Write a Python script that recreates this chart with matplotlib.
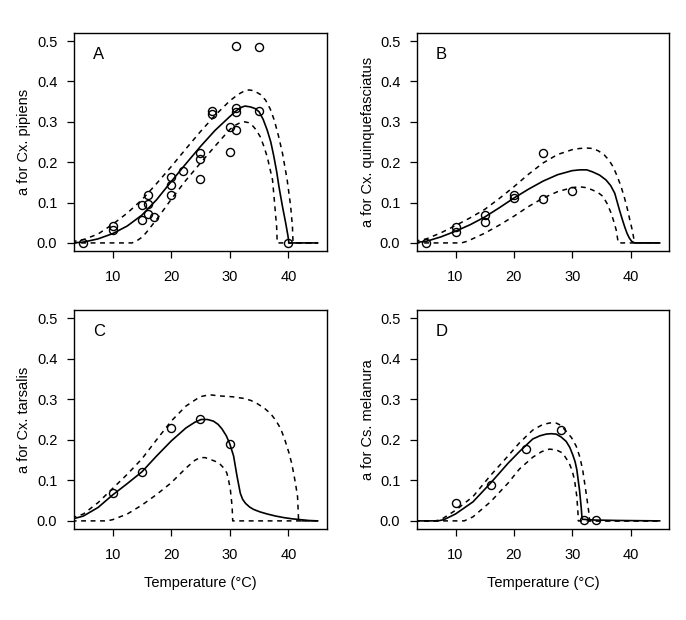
import numpy as np
import matplotlib
matplotlib.use("Agg")
import matplotlib.pyplot as plt

plt.rcParams["font.family"] = ["Liberation Sans", "DejaVu Sans"]

# ---- observed points (temperature, biting rate a) ----
a_pts_t = [5, 10, 10, 15, 15, 16, 16, 16, 17, 20, 20, 20, 22, 25, 25, 25,
           27, 27, 30, 30, 31, 31, 31, 31, 35, 35, 40]
a_pts_y = [0.0, 0.041, 0.031, 0.093, 0.057, 0.119, 0.096, 0.072, 0.065,
           0.164, 0.143, 0.118, 0.179, 0.222, 0.208, 0.158, 0.327, 0.320,
           0.287, 0.226, 0.488, 0.333, 0.325, 0.279, 0.485, 0.326, 0.0]

b_pts_t = [5, 10, 10, 15, 15, 20, 20, 25, 25, 30]
b_pts_y = [0.0, 0.040, 0.026, 0.070, 0.052, 0.119, 0.111, 0.222, 0.110, 0.129]

c_pts_t = [10, 15, 20, 25, 30]
c_pts_y = [0.070, 0.120, 0.230, 0.251, 0.190]

d_pts_t = [10, 16, 22, 28, 32, 34]
d_pts_y = [0.044, 0.088, 0.177, 0.224, 0.001, 0.001]

# ---- fitted mean curves and 95% bounds ----
a_fit_t = [3, 5, 7.5, 10, 12.5, 15, 17.5, 20, 22.5, 25, 27.5, 30, 31, 31.8,
           32.6, 33.5, 34.3, 35, 35.7, 36.4, 37.0, 37.5, 38.0, 38.4, 39.0,
           39.55, 39.95, 40.1, 45]
a_fit_y = [0.0, 0.002, 0.01, 0.023, 0.042, 0.069, 0.107, 0.152, 0.196, 0.239,
           0.279, 0.313, 0.326, 0.335, 0.339, 0.337, 0.333, 0.325, 0.306,
           0.279, 0.25, 0.216, 0.177, 0.139, 0.09, 0.049, 0.016, 0.0, 0.0]
a_hi_t = [3, 5, 7.5, 10, 12.5, 15, 17.5, 20, 22.5, 25, 27.5, 30, 31, 31.8,
          32.6, 33.3, 34.1, 35.2, 36.1, 36.9, 37.6, 38.3, 39.0, 39.8, 40.4,
          40.7, 40.8, 45]
a_hi_y = [0.003, 0.008, 0.022, 0.046, 0.074, 0.107, 0.147, 0.189, 0.233, 0.276,
          0.316, 0.352, 0.363, 0.371, 0.377, 0.379, 0.377, 0.368, 0.354, 0.332,
          0.304, 0.266, 0.222, 0.156, 0.09, 0.04, 0.0, 0.0]
a_lo_t = [3, 13.3, 14, 15, 15.7, 17.5, 20, 22.5, 25, 27.5, 30, 31, 31.8, 32.5,
          33.2, 33.8, 34.5, 35.2, 35.8, 36.4, 37.3, 37.7, 38.0, 38.1, 45]
a_lo_y = [0.0, 0.0, 0.004, 0.014, 0.025, 0.058, 0.108, 0.155, 0.198, 0.24,
          0.281, 0.292, 0.298, 0.3, 0.298, 0.292, 0.28, 0.263, 0.24, 0.213,
          0.156, 0.09, 0.04, 0.0, 0.0]

b_fit_t = [3, 5, 7.5, 10, 12.5, 15, 17.5, 20, 22.5, 25, 27.5, 30, 31.3, 32.5,
           33.5, 34.7, 35.8, 36.6, 37.3, 38.1, 38.6, 39.0, 39.4, 39.8, 40.2,
           40.7, 45]
b_fit_y = [0.001, 0.004, 0.015, 0.029, 0.045, 0.064, 0.087, 0.111, 0.133,
           0.153, 0.169, 0.179, 0.181, 0.181, 0.176, 0.168, 0.156, 0.142,
           0.123, 0.082, 0.058, 0.04, 0.024, 0.012, 0.004, 0.0, 0.0]
b_hi_t = [3, 5, 7.5, 10, 12.5, 15, 17.5, 20, 22.5, 25, 27.5, 30, 31.3, 32.5,
          33.5, 34.5, 35.5, 36.3, 37.0, 37.7, 38.4, 39.0, 39.5, 39.9, 40.3,
          40.7, 45]
b_hi_y = [0.004, 0.01, 0.025, 0.043, 0.062, 0.083, 0.11, 0.139, 0.17, 0.198,
          0.219, 0.231, 0.234, 0.235, 0.234, 0.228, 0.218, 0.205, 0.189, 0.166,
          0.139, 0.11, 0.082, 0.056, 0.032, 0.0, 0.0]
b_lo_t = [3, 11, 12, 15, 17.5, 20, 22.5, 25, 27.5, 30, 31.3, 32.4, 33.5, 34.5,
          35.3, 36.0, 36.7, 37.2, 37.55, 37.9, 45]
b_lo_y = [0.0, 0.0, 0.004, 0.024, 0.044, 0.066, 0.09, 0.111, 0.127, 0.137,
          0.139, 0.137, 0.131, 0.124, 0.115, 0.097, 0.073, 0.05, 0.032, 0.0,
          0.0]

c_fit_t = [3, 5, 7.5, 10, 12.5, 15, 17.5, 20, 22.5, 24, 25.1, 26.2, 27.2,
           28.0, 28.66, 29.4, 30, 30.65, 31.24, 31.8, 32.2, 32.7, 33.4, 34.1,
           35.2, 36.4, 37.8, 39.26, 40.7, 42.1, 43.5, 45]
c_fit_y = [0.004, 0.012, 0.033, 0.064, 0.092, 0.121, 0.16, 0.197, 0.229, 0.243,
           0.25, 0.25, 0.246, 0.238, 0.227, 0.21, 0.19, 0.16, 0.11, 0.068,
           0.053, 0.043, 0.034, 0.028, 0.022, 0.017, 0.012, 0.008, 0.005,
           0.003, 0.001, 0.0]
c_hi_t = [3, 5, 7.5, 10, 12.5, 15, 17.5, 20, 22.5, 24.9, 26.5, 28.4, 30.5,
          32.4, 33.6, 34.7, 35.9, 37.0, 37.9, 38.7, 39.4, 40.1, 40.6, 41.0,
          41.3, 41.57, 41.7, 41.75, 45]
c_hi_y = [0.007, 0.017, 0.045, 0.08, 0.115, 0.153, 0.2, 0.246, 0.283, 0.306,
          0.311, 0.308, 0.306, 0.302, 0.297, 0.289, 0.278, 0.264, 0.247, 0.227,
          0.2, 0.168, 0.14, 0.11, 0.085, 0.06, 0.018, 0.0, 0.0]
c_lo_t = [3, 9, 10, 12.5, 15, 17.5, 20, 22.5, 24.0, 24.9, 25.8, 26.6, 27.5,
          28.4, 29.0, 29.5, 29.8, 30.1, 30.4, 30.5, 45]
c_lo_y = [0.0, 0.0, 0.003, 0.017, 0.039, 0.065, 0.094, 0.13, 0.149, 0.156,
          0.156, 0.152, 0.147, 0.139, 0.13, 0.118, 0.1, 0.077, 0.035, 0.0, 0.0]

d_fit_t = [3, 7, 8, 10, 13, 16, 19, 20.97, 23.25, 24.5, 25.55, 26.4, 27.26,
           28.1, 28.97, 29.6, 30.1, 30.5, 30.8, 31.26, 31.55, 31.7, 34, 38, 45]
d_fit_y = [0.0, 0.0, 0.003, 0.017, 0.047, 0.093, 0.142, 0.171, 0.202, 0.21,
           0.214, 0.215, 0.214, 0.207, 0.196, 0.181, 0.163, 0.146, 0.126,
           0.076, 0.033, 0.004, 0.002, 0.001, 0.0]
d_hi_t = [3, 6.5, 7.5, 10, 13, 16, 19, 21, 23.25, 25, 26.4, 27.3, 28, 28.97,
          29.9, 30.7, 31.3, 31.8, 32.4, 32.8, 33.0, 45]
d_hi_y = [0.0, 0.0, 0.003, 0.026, 0.06, 0.112, 0.16, 0.193, 0.224, 0.238,
          0.242, 0.241, 0.236, 0.221, 0.205, 0.184, 0.158, 0.126, 0.068, 0.027,
          0.0, 0.0]
d_lo_t = [3, 11.5, 13, 16, 19, 20.97, 23.25, 24.8, 26.1, 27.3, 28.4, 29.5,
          30.0, 30.4, 30.8, 31.0, 31.05, 45]
d_lo_y = [0.0, 0.0, 0.01, 0.047, 0.093, 0.128, 0.157, 0.171, 0.177, 0.175,
          0.167, 0.142, 0.124, 0.101, 0.06, 0.018, 0.0, 0.0]

panels = [
    ("A", "a for Cx. pipiens", a_pts_t, a_pts_y,
     (a_fit_t, a_fit_y), (a_hi_t, a_hi_y), (a_lo_t, a_lo_y)),
    ("B", "a for Cx. quinquefasciatus", b_pts_t, b_pts_y,
     (b_fit_t, b_fit_y), (b_hi_t, b_hi_y), (b_lo_t, b_lo_y)),
    ("C", "a for Cx. tarsalis", c_pts_t, c_pts_y,
     (c_fit_t, c_fit_y), (c_hi_t, c_hi_y), (c_lo_t, c_lo_y)),
    ("D", "a for Cs. melanura", d_pts_t, d_pts_y,
     (d_fit_t, d_fit_y), (d_hi_t, d_hi_y), (d_lo_t, d_lo_y)),
]

W, H = 686, 620
boxes = [(74, 33, 327, 251), (417, 33, 669, 251),
         (74, 310, 327, 529), (417, 310, 669, 529)]

fig = plt.figure(figsize=(W / 100, H / 100), dpi=100)

for (letter, ylab, pt, py, fit, hi, lo), (x0, y0, x1, y1) in zip(panels, boxes):
    ax = fig.add_axes([x0 / W, (H - y1) / H, (x1 - x0) / W, (y1 - y0) / H])
    ax.plot(fit[0], fit[1], color="black", lw=1.2)
    ax.plot(hi[0], hi[1], color="black", lw=1.1, dashes=(3.2, 3))
    ax.plot(lo[0], lo[1], color="black", lw=1.1, dashes=(3.2, 3))
    ax.plot(pt, py, "o", mfc="none", mec="black", ms=5.8, mew=1.0)

    ax.set_xlim(3.4, 46.6)
    ax.set_ylim(-0.02, 0.52)
    ax.set_xticks([10, 20, 30, 40])
    ax.set_yticks(np.arange(0, 0.51, 0.1))
    ax.set_yticklabels([f"{v:.1f}" for v in np.arange(0, 0.51, 0.1)])
    ax.tick_params(direction="out", length=5, width=0.9, labelsize=10.5)
    ax.tick_params(axis="x", pad=9)
    ax.tick_params(axis="y", pad=7)
    for s in ax.spines.values():
        s.set_linewidth(1.0)

    ax.set_ylabel(ylab, fontsize=10.5)
    ax.yaxis.set_label_coords(-0.168, 0.5)
    if letter in ("C", "D"):
        ax.set_xlabel("Temperature (°C)", fontsize=10.5)
        ax.xaxis.set_label_coords(0.5, -0.215)
    ax.text(0.075, 0.9, letter, transform=ax.transAxes, fontsize=12,
            ha="left", va="center")

fig.savefig("out.png", dpi=100)
